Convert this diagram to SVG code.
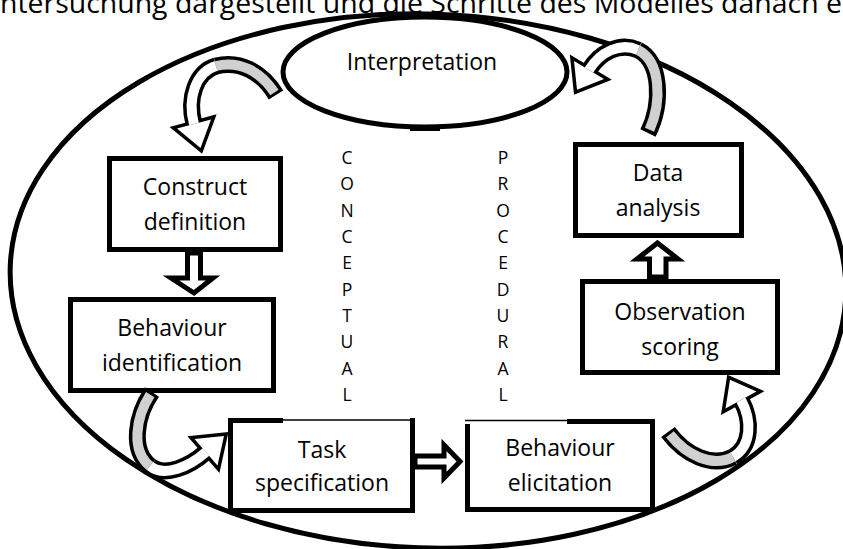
<svg xmlns="http://www.w3.org/2000/svg" width="843" height="549" viewBox="0 0 843 549">
<style>
.lbl{font-family:"Open Sans","Liberation Sans",sans-serif;font-size:23px;fill:#000;text-anchor:middle}
.vert{font-family:"Open Sans","Liberation Sans",sans-serif;font-size:17.5px;fill:#000;text-anchor:middle}
.box{fill:#fff;stroke:#000;stroke-width:5}
.band-o{fill:none;stroke:#000;stroke-width:17}
.band-g{fill:none;stroke:#d0d0d0;stroke-width:10}
.band-w{fill:none;stroke:#fff;stroke-width:10}
.head-o{fill:#000;stroke:#000;stroke-width:7;stroke-linejoin:miter}
.head-f{fill:#fff;stroke:none}
.block{fill:#fff;stroke:#000;stroke-width:5;stroke-linejoin:miter}
</style>
<rect width="843" height="549" fill="#fff"/>
<text x="0" y="13" font-family="Open Sans, Liberation Sans, sans-serif" font-size="27.5" textLength="842" lengthAdjust="spacingAndGlyphs">ntersuchung dargestellt und die Schritte des Modelles danach e</text>
<ellipse id="outer" cx="428" cy="281" rx="418" ry="267" transform="rotate(2 428 281)" fill="none" stroke="#000" stroke-width="5"/>

<g id="interpretation">
<ellipse cx="425" cy="72" rx="142" ry="55" fill="#fff" stroke="#000" stroke-width="5"/>
<rect x="410" y="126" width="30" height="5" fill="#000"/>
<text class="lbl" x="422" y="70">Interpretation</text>
</g>

<g id="construct">
<rect class="box" x="109.5" y="158.5" width="171" height="91"/>
<text class="lbl" x="195" y="195">Construct</text>
<text class="lbl" x="195" y="230">definition</text>
</g>

<g id="behaviour-identification">
<rect class="box" x="70.5" y="299.5" width="203" height="91"/>
<text class="lbl" x="172" y="336">Behaviour</text>
<text class="lbl" x="172" y="371">identification</text>
</g>

<g id="task">
<rect class="box" x="230.5" y="420.5" width="182" height="90"/>
<rect x="283" y="415" width="127" height="8" fill="#fff"/>
<line x1="283" y1="420" x2="410" y2="420" stroke="#000" stroke-width="1.5"/>
<text class="lbl" x="322" y="458">Task</text>
<text class="lbl" x="322" y="491">specification</text>
</g>

<g id="behaviour-elicitation">
<rect class="box" x="467.5" y="421.5" width="185" height="88"/>
<rect x="465" y="416" width="102" height="8" fill="#fff"/>
<line x1="465" y1="420.5" x2="567" y2="420.5" stroke="#000" stroke-width="1.5"/>
<text class="lbl" x="560" y="456">Behaviour</text>
<text class="lbl" x="560" y="491">elicitation</text>
</g>

<g id="observation">
<rect class="box" x="582.5" y="281.5" width="195" height="91"/>
<text class="lbl" x="680" y="320">Observation</text>
<text class="lbl" x="680" y="355">scoring</text>
</g>

<g id="data">
<rect class="box" x="575.5" y="144.5" width="166" height="91"/>
<text class="lbl" x="658" y="181">Data</text>
<text class="lbl" x="658" y="216">analysis</text>
</g>

<g id="conceptual">
<text class="vert" x="347" y="164">C</text>
<text class="vert" x="347" y="190">O</text>
<text class="vert" x="347" y="217">N</text>
<text class="vert" x="347" y="243">C</text>
<text class="vert" x="347" y="269">E</text>
<text class="vert" x="347" y="296">P</text>
<text class="vert" x="347" y="322">T</text>
<text class="vert" x="347" y="348">U</text>
<text class="vert" x="347" y="375">A</text>
<text class="vert" x="347" y="401">L</text>
</g>
<g id="procedural">
<text class="vert" x="503" y="164">P</text>
<text class="vert" x="503" y="190">R</text>
<text class="vert" x="503" y="217">O</text>
<text class="vert" x="503" y="243">C</text>
<text class="vert" x="503" y="269">E</text>
<text class="vert" x="503" y="296">D</text>
<text class="vert" x="503" y="322">U</text>
<text class="vert" x="503" y="348">R</text>
<text class="vert" x="503" y="375">A</text>
<text class="vert" x="503" y="401">L</text>
</g>

<g id="connectors">
<polygon class="block" points="187.5,253 200.5,253 200.5,278 213,278 194,293 171,278 187.5,278"/>
<polygon class="block" points="649.5,277 666,277 666,259 678,259 657.5,243 637,259 649.5,259"/>
<polygon class="block" points="415,456 444,456 444,445 460,461.5 444,478 444,467 415,467"/>

<g>
<polygon class="head-o" points="200.5,148 211,119.4 177,128.6"/>
<path class="band-o" d="M 276 95 C 262 72 240 60 216 66"/>
<path class="band-o" d="M 216 66 C 196 72 187 98 194 124"/>
<polygon class="head-f" points="200.5,148 211,119.4 177,128.6"/>
<path class="band-g" pathLength="100" stroke-dasharray="0 4 96" d="M 276 95 C 262 72 240 60 216 66"/>
<path class="band-w" d="M 216 66 C 196 72 187 98 194 124"/>
</g>

<g>
<polygon class="head-o" points="577,89.7 604,79 574,61"/>
<path class="band-o" d="M 648 133 C 662 105 662 62 638 50"/>
<path class="band-o" d="M 638 50 C 620 42 600 52 589 70"/>
<polygon class="head-f" points="577,89.7 604,79 574,61"/>
<path class="band-g" pathLength="100" stroke-dasharray="0 4 96" d="M 648 133 C 662 105 662 62 638 50"/>
<path class="band-w" d="M 638 50 C 620 42 600 52 589 70"/>
</g>

<g>
<polygon class="head-o" points="224,436 217.5,465.5 194.5,439"/>
<path class="band-o" d="M 152 392 C 136 415 130 450 150 466"/>
<path class="band-o" d="M 150 466 C 165 478 190 466 206 452"/>
<polygon class="head-f" points="224,436 217.5,465.5 194.5,439"/>
<path class="band-g" pathLength="100" stroke-dasharray="0 4 96" d="M 152 392 C 136 415 130 450 150 466"/>
<path class="band-w" d="M 150 466 C 165 478 190 466 206 452"/>
</g>

<g>
<polygon class="head-o" points="730,379.8 756.5,391.5 725.5,408.5"/>
<path class="band-o" d="M 668 432 C 685 455 712 468 733 457"/>
<path class="band-o" d="M 733 457 C 752 446 752 420 741 400"/>
<polygon class="head-f" points="730,379.8 756.5,391.5 725.5,408.5"/>
<path class="band-g" pathLength="100" stroke-dasharray="0 4 96" d="M 668 432 C 685 455 712 468 733 457"/>
<path class="band-w" d="M 733 457 C 752 446 752 420 741 400"/>
</g>
</g>
</svg>
